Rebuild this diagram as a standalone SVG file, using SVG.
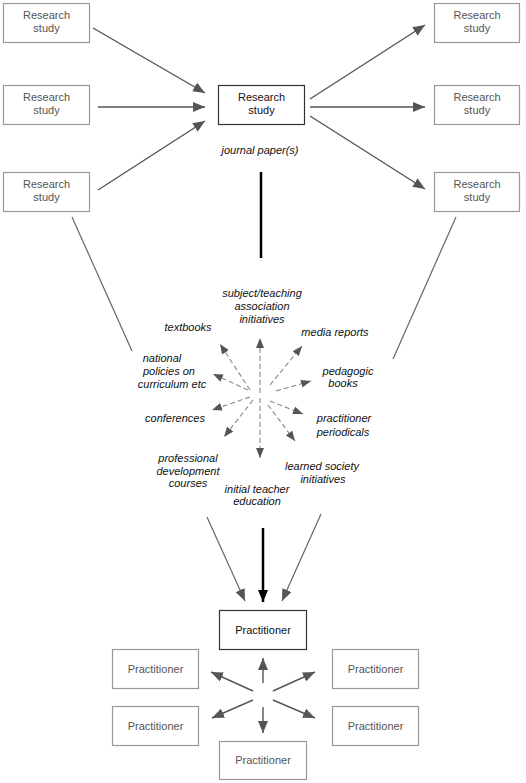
<svg xmlns="http://www.w3.org/2000/svg" width="526" height="783" viewBox="0 0 526 783">
<defs>
<style>
.box{fill:#fff;stroke:#999;stroke-width:1.2}
.main{fill:#fff;stroke:#333;stroke-width:1.2}
.t{font-family:"Liberation Sans",Arial,sans-serif;font-size:11px;fill:#555;text-anchor:middle}
.tm{font-family:"Liberation Sans",Arial,sans-serif;font-size:11px;fill:#111;text-anchor:middle}
.lab{font-family:"Liberation Sans",Arial,sans-serif;font-size:11px;font-style:italic;fill:#111;text-anchor:middle}
.c{stroke:#555;stroke-width:1.4;fill:none}
.plain{stroke:#666;stroke-width:1.2;fill:none}
.d{stroke:#888;stroke-width:1.1;stroke-dasharray:5,3;fill:none}
.k{stroke:#000;stroke-width:2.5;fill:none}
</style>
<marker id="ah" markerUnits="userSpaceOnUse" markerWidth="12" markerHeight="10" refX="12" refY="5" orient="auto" viewBox="0 0 12 10">
<path d="M0,0 L12,5 L0,10 z" fill="#555"/>
</marker>
<marker id="ahs" markerUnits="userSpaceOnUse" markerWidth="10" markerHeight="8" refX="10" refY="4" orient="auto" viewBox="0 0 10 8">
<path d="M0,0 L10,4 L0,8 z" fill="#555"/>
</marker>
<marker id="ahk" markerUnits="userSpaceOnUse" markerWidth="12" markerHeight="10" refX="12" refY="5" orient="auto" viewBox="0 0 12 10">
<path d="M0,0 L12,5 L0,10 z" fill="#000"/>
</marker>
</defs>
<rect width="526" height="783" fill="#fff"/>

<g id="rs-l1"><rect class="box" x="3.5" y="3.5" width="86" height="39"/><text class="t" x="46.5" y="19">Research</text><text class="t" x="46.5" y="32">study</text></g>
<g id="rs-l2"><rect class="box" x="3.5" y="85.5" width="86" height="39"/><text class="t" x="46.5" y="101">Research</text><text class="t" x="46.5" y="114">study</text></g>
<g id="rs-l3"><rect class="box" x="3.5" y="172.5" width="86" height="39"/><text class="t" x="46.5" y="188">Research</text><text class="t" x="46.5" y="201">study</text></g>
<g id="rs-c"><rect class="main" x="218.5" y="85.5" width="86" height="39"/><text class="tm" x="261.5" y="101">Research</text><text class="tm" x="261.5" y="114">study</text></g>
<g id="rs-r1"><rect class="box" x="434.5" y="3.5" width="85" height="39"/><text class="t" x="477" y="19">Research</text><text class="t" x="477" y="32">study</text></g>
<g id="rs-r2"><rect class="box" x="434.5" y="85.5" width="85" height="39"/><text class="t" x="477" y="101">Research</text><text class="t" x="477" y="114">study</text></g>
<g id="rs-r3"><rect class="box" x="434.5" y="172.5" width="85" height="39"/><text class="t" x="477" y="188">Research</text><text class="t" x="477" y="201">study</text></g>

<g id="journal"><text class="lab" x="260" y="154">journal paper(s)</text></g>

<g id="labels">
<text class="lab" x="262" y="297">subject/teaching</text>
<text class="lab" x="262" y="310">association</text>
<text class="lab" x="262" y="323">initiatives</text>
<text class="lab" x="188" y="331">textbooks</text>
<text class="lab" x="335" y="336">media reports</text>
<text class="lab" x="162" y="362">national</text>
<text class="lab" x="169" y="375">policies on</text>
<text class="lab" x="172" y="388">curriculum etc</text>
<text class="lab" x="348" y="375">pedagogic</text>
<text class="lab" x="343" y="387">books</text>
<text class="lab" x="175" y="422">conferences</text>
<text class="lab" x="344" y="422">practitioner</text>
<text class="lab" x="343" y="436">periodicals</text>
<text class="lab" x="188" y="462">professional</text>
<text class="lab" x="188" y="475">development</text>
<text class="lab" x="188" y="487">courses</text>
<text class="lab" x="322" y="470">learned society</text>
<text class="lab" x="323" y="483">initiatives</text>
<text class="lab" x="257" y="493">initial teacher</text>
<text class="lab" x="257" y="505">education</text>
</g>

<g id="pr-main"><rect class="main" x="219.5" y="610.5" width="87" height="39"/><text class="tm" x="263" y="634">Practitioner</text></g>
<g id="pr-l1"><rect class="box" x="112.5" y="649.5" width="86" height="39"/><text class="t" x="155.5" y="673">Practitioner</text></g>
<g id="pr-r1"><rect class="box" x="332.5" y="649.5" width="86" height="39"/><text class="t" x="375.5" y="673">Practitioner</text></g>
<g id="pr-l2"><rect class="box" x="112.5" y="706.5" width="86" height="39"/><text class="t" x="155.5" y="730">Practitioner</text></g>
<g id="pr-r2"><rect class="box" x="332.5" y="706.5" width="86" height="39"/><text class="t" x="375.5" y="730">Practitioner</text></g>
<g id="pr-b"><rect class="box" x="219.5" y="741.5" width="87" height="38"/><text class="t" x="263" y="764">Practitioner</text></g>

<g id="connectors">
<line class="c" x1="93" y1="28" x2="205" y2="93" marker-end="url(#ah)"/>
<line class="c" x1="98" y1="107" x2="205" y2="107" marker-end="url(#ah)"/>
<line class="c" x1="98" y1="190" x2="205" y2="121" marker-end="url(#ah)"/>
<line class="c" x1="310" y1="99" x2="425" y2="25" marker-end="url(#ah)"/>
<line class="c" x1="310" y1="107" x2="425" y2="107" marker-end="url(#ah)"/>
<line class="c" x1="310" y1="116" x2="425" y2="189" marker-end="url(#ah)"/>
<line class="k" x1="261" y1="172" x2="261" y2="258"/>
<line class="plain" x1="72" y1="217" x2="132" y2="351"/>
<line class="plain" x1="456" y1="217" x2="393" y2="359"/>

<line class="d" x1="260" y1="393" x2="260" y2="338" marker-end="url(#ahs)"/>
<line class="d" x1="250" y1="390" x2="220" y2="344" marker-end="url(#ahs)"/>
<line class="d" x1="270" y1="385" x2="302" y2="346" marker-end="url(#ahs)"/>
<line class="d" x1="248" y1="390" x2="213" y2="374" marker-end="url(#ahs)"/>
<line class="d" x1="276" y1="391" x2="311" y2="381" marker-end="url(#ahs)"/>
<line class="d" x1="250" y1="397" x2="212" y2="410" marker-end="url(#ahs)"/>
<line class="d" x1="270" y1="401" x2="303" y2="414" marker-end="url(#ahs)"/>
<line class="d" x1="253" y1="400" x2="224" y2="437" marker-end="url(#ahs)"/>
<line class="d" x1="268" y1="405" x2="295" y2="441" marker-end="url(#ahs)"/>
<line class="d" x1="260" y1="398" x2="260" y2="458" marker-end="url(#ahs)"/>

<line class="plain" x1="207" y1="517" x2="245" y2="601" marker-end="url(#ah)"/>
<line class="k" x1="263" y1="528" x2="263" y2="602" marker-end="url(#ahk)"/>
<line class="plain" x1="321" y1="514" x2="282" y2="601" marker-end="url(#ah)"/>

<line class="c" x1="263" y1="683" x2="263" y2="658" marker-end="url(#ah)"/>
<line class="c" x1="253" y1="691" x2="211" y2="672" marker-end="url(#ah)"/>
<line class="c" x1="273" y1="691" x2="315" y2="672" marker-end="url(#ah)"/>
<line class="c" x1="253" y1="700" x2="212" y2="718" marker-end="url(#ah)"/>
<line class="c" x1="273" y1="700" x2="315" y2="718" marker-end="url(#ah)"/>
<line class="c" x1="263" y1="707" x2="263" y2="733" marker-end="url(#ah)"/>
</g>
</svg>
